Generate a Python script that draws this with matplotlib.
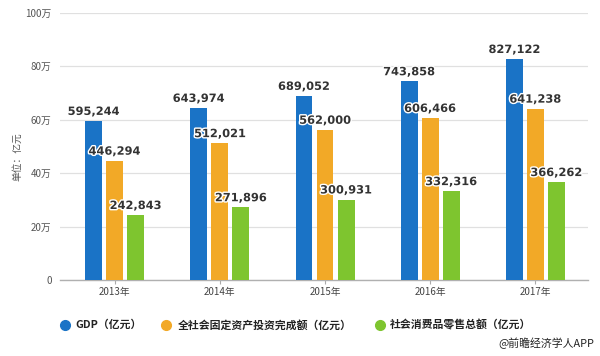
import matplotlib
matplotlib.use("Agg")
import matplotlib.pyplot as plt
import numpy as np
import matplotlib.patheffects as pe
from matplotlib.lines import Line2D

plt.rcParams['font.family'] = ['Noto Sans CJK SC', 'DejaVu Sans']

years = ["2013年", "2014年", "2015年", "2016年", "2017年"]
gdp = [595244, 643974, 689052, 743858, 827122]
invest = [446294, 512021, 562000, 606466, 641238]
retail = [242843, 271896, 300931, 332316, 366262]
series_names = ["GDP（亿元）", "全社会固定资产投资完成额（亿元）", "社会消费品零售总额（亿元）"]
y_ticks = [0, 200000, 400000, 600000, 800000, 1000000]
y_tick_labels = ["0", "20万", "40万", "60万", "80万", "100万"]
colors = ["#1a73c6", "#f2a927", "#7ec52f"]

fig = plt.figure(figsize=(6.0, 3.56), dpi=100)
ax = fig.add_axes([60/600, (356-280)/356, (588-60)/600, (280-13)/356])

x = np.arange(len(years))
offsets = [-0.2, 0.0, 0.2]
width = 0.16
for vals, off, c in zip([gdp, invest, retail], offsets, colors):
    ax.bar(x + off, vals, width=width, color=c, zorder=3)
    for xi, v in zip(x, vals):
        ax.annotate(f"{v:,}", (xi + off, v), xytext=(0, 3), textcoords="offset points",
                    ha="center", va="bottom", fontsize=8.2, fontweight="bold",
                    color="#333333", family="DejaVu Sans", zorder=5,
                    path_effects=[pe.withStroke(linewidth=2, foreground="white")])

ax.set_ylim(0, 1000000)
ax.set_xlim(-0.52, 4.5)
ax.set_yticks(y_ticks)
ax.set_yticklabels(y_tick_labels, fontsize=7, color="#555555")
ax.set_xticks(x)
ax.set_xticklabels(years, fontsize=7, color="#444444")
ax.tick_params(axis="y", length=0, pad=6)
ax.tick_params(axis="x", length=3, color="#aaaaaa", pad=2)
ax.grid(axis="y", color="#e0e0e0", linewidth=0.9, zorder=0)
for s in ["top", "right", "left"]:
    ax.spines[s].set_visible(False)
ax.spines["bottom"].set_color("#b0b0b0")
ax.spines["bottom"].set_linewidth(1.0)

fig.text(17/600, 1 - 157/356, "单位：亿元", rotation=90, ha="center", va="center",
         fontsize=7, color="#555555")

# legend
leg_y = 1 - 325/356
for cx, tx, name, c in zip([65, 166, 380], [75, 178, 390], series_names, colors):
    fig.add_artist(Line2D([cx/600], [leg_y], marker="o", markersize=7, color=c,
                          linestyle="none", transform=fig.transFigure))
    fig.text(tx/600, leg_y, name, ha="left", va="center", fontsize=7.8,
             fontweight="bold", color="#222222")

fig.text(594/600, 1 - 343/356, "@前瞻经济学人APP", ha="right", va="center",
         fontsize=7.8, color="#222222")

fig.savefig("out.png", dpi=100)
